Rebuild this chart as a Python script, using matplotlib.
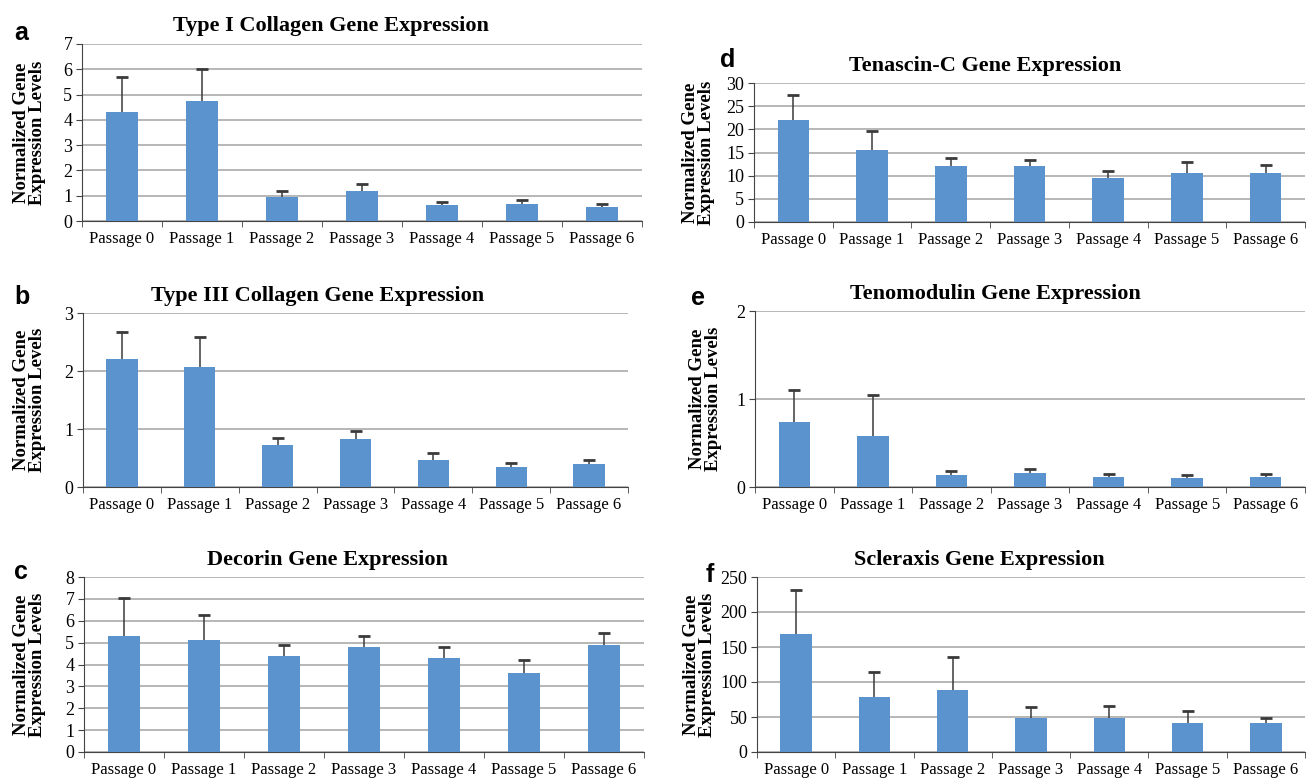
import matplotlib.pyplot as plt
import numpy as np

passages = ['Passage 0', 'Passage 1', 'Passage 2', 'Passage 3', 'Passage 4', 'Passage 5', 'Passage 6']

col1_mean = [4.3, 4.75, 0.93, 1.17, 0.62, 0.68, 0.56]
col1_err = [1.4, 1.25, 0.27, 0.30, 0.13, 0.17, 0.11]

col3_mean = [2.2, 2.07, 0.72, 0.83, 0.47, 0.35, 0.40]
col3_err = [0.48, 0.52, 0.13, 0.13, 0.12, 0.07, 0.06]

dcn_mean = [5.3, 5.1, 4.4, 4.8, 4.3, 3.6, 4.9]
dcn_err = [1.75, 1.15, 0.5, 0.5, 0.5, 0.6, 0.55]

tnc_mean = [22.0, 15.5, 12.0, 12.0, 9.6, 10.6, 10.6]
tnc_err = [5.4, 4.2, 1.9, 1.4, 1.3, 2.3, 1.6]

tnmd_mean = [0.74, 0.58, 0.14, 0.16, 0.11, 0.10, 0.11]
tnmd_err = [0.36, 0.47, 0.04, 0.04, 0.04, 0.04, 0.04]

scx_mean = [168, 78, 88, 49, 49, 42, 41]
scx_err = [63, 36, 48, 16, 17, 16, 8]

# letter, title, means, errors, ymax, step, axes box (px), letter pos (px), ylabel right edge (px), title centre (px)
panels = [
    ('a', 'Type I Collagen Gene Expression', col1_mean, col1_err, 7, 1, [82, 44, 642, 221], (14, 33), 46, 331),
    ('b', 'Type III Collagen Gene Expression', col3_mean, col3_err, 3, 1, [83, 313, 628, 487], (14, 297), 46, 318),
    ('c', 'Decorin Gene Expression', dcn_mean, dcn_err, 8, 1, [84, 577, 644, 752], (14, 572), 46, 327),
    ('d', 'Tenascin-C Gene Expression', tnc_mean, tnc_err, 30, 5, [754, 83, 1305, 222], (720, 60), 715, 985),
    ('e', 'Tenomodulin Gene Expression', tnmd_mean, tnmd_err, 2, 1, [755, 311, 1305, 487], (691, 298), 722, 995),
    ('f', 'Scleraxis Gene Expression', scx_mean, scx_err, 250, 50, [757, 577, 1305, 752], (706, 575), 716, 979),
]

W, H = 1307, 779
fig = plt.figure(figsize=(W / 100, H / 100), dpi=100)
serif = 'Liberation Serif'

for letter, title, mean, err, ymax, step, box, lpos, ylx, tcx in panels:
    x0, y0, x1, y1 = box
    ax = fig.add_axes([x0 / W, 1 - y1 / H, (x1 - x0) / W, (y1 - y0) / H])
    x = np.arange(len(passages))
    top = np.array(mean) + np.array(err)
    ax.bar(x, mean, width=0.4, color='#5b93cf', zorder=3)
    ax.vlines(x, mean, top, color='#3a3a3a', linewidth=1.1, zorder=4)
    ax.plot(x, top, linestyle='none', marker='_', markersize=8, markeredgewidth=2,
            color='#3a3a3a', zorder=4)
    ax.set_xlim(-0.5, len(passages) - 0.5)
    ax.set_ylim(0, ymax)
    ax.set_yticks(np.arange(0, ymax + step / 2, step))
    ax.yaxis.grid(True, color='#aaaaaa', linewidth=1.2, zorder=0)
    ax.set_xticks(x)
    ax.set_xticklabels(passages, fontsize=12, family=serif)
    ax.tick_params(axis='x', length=0, pad=7)
    ax.set_xticks(np.arange(-0.5, len(passages)), minor=True)
    ax.tick_params(axis='x', which='minor', length=4, color='#444444')
    for lab in ax.get_yticklabels():
        lab.set_family(serif)
        lab.set_fontsize(13)
    ax.tick_params(axis='y', length=4, color='#444444', pad=3)
    for s in ['top', 'right']:
        ax.spines[s].set_visible(False)
    ax.spines['left'].set_color('#444444')
    ax.spines['bottom'].set_color('#444444')
    ax.set_title(title, family=serif, fontweight='bold', fontsize=16, pad=9,
                 x=(tcx - x0) / (x1 - x0))
    ax.set_ylabel('Normalized Gene\nExpression Levels', family=serif, fontweight='bold',
                  fontsize=13.5, linespacing=0.9)
    ax.yaxis.set_label_coords((ylx - x0) / (x1 - x0), 0.5)
    fig.text(lpos[0] / W, 1 - lpos[1] / H, letter, fontsize=18, fontweight='bold',
             family='Liberation Sans', va='center', ha='left')

fig.savefig('out.png', dpi=100)
